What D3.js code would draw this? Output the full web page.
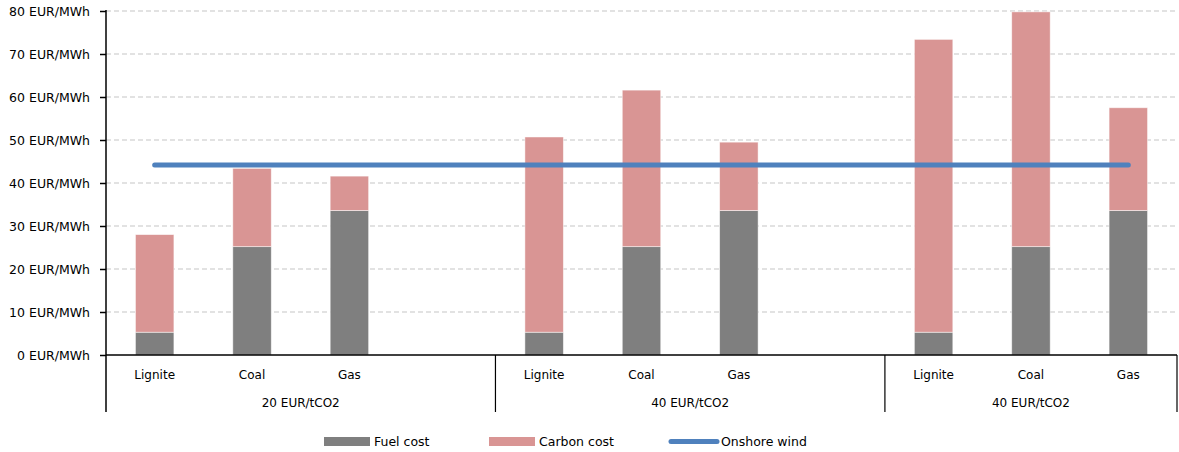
<!DOCTYPE html>
<html>
<head>
<meta charset="utf-8">
<script src="https://cdn.jsdelivr.net/npm/d3@7"></script>
<style>
  html, body { margin: 0; padding: 0; background: #fff; }
  svg { display: block; font-family: "DejaVu Sans", sans-serif; }
</style>
</head>
<body>
<svg id="chart" width="1179" height="452"></svg>
<script>
// Carbon price scenarios and the technologies compared in each
const scenarios = ["20 EUR/tCO2", "40 EUR/tCO2", "40 EUR/tCO2"];
const technologies = ["Lignite", "Coal", "Gas"];

// Generation cost components per scenario (EUR/MWh), in technology order
const fuelCost = [
  [5.3, 25.2, 33.6],
  [5.3, 25.2, 33.6],
  [5.3, 25.2, 33.6]
];
const carbonCost = [
  [22.7, 18.2, 8.0],
  [45.4, 36.4, 15.9],
  [68.1, 54.6, 23.9]
];
// Onshore wind reference cost (EUR/MWh), one value per technology column
const onshoreWind = [
  [44.2, 44.2, 44.2],
  [44.2, 44.2, 44.2],
  [44.2, 44.2, 44.2]
];

const yTicks = [0, 10, 20, 30, 40, 50, 60, 70, 80];

const colors = { fuel: "#7f7f7f", carbon: "#d99594", wind: "#4f81bd" };

const svg = d3.select("#chart");
const plotLeft = 106, plotRight = 1177, plotTop = 11, plotBottom = 355, axisBottom = 412;

// Each scenario gets a slot per technology plus an empty spacer slot (except the last)
const slots = [];
scenarios.forEach((s, gi) => {
  technologies.forEach((t, ti) => slots.push(`${gi}-${ti}`));
  if (gi < scenarios.length - 1) slots.push(`${gi}-gap`);
});

const x = d3.scaleBand().domain(slots).range([plotLeft, plotRight]).padding(0);
const y = d3.scaleLinear().domain([0, 80]).range([plotBottom, plotTop]);
const barW = x.bandwidth() * 0.395;

// Horizontal dashed gridlines
svg.append("g")
  .selectAll("line")
  .data(yTicks.filter(d => d > 0))
  .join("line")
  .attr("x1", plotLeft).attr("x2", plotRight)
  .attr("y1", d => y(d)).attr("y2", d => y(d))
  .attr("stroke", "#d9d9d9")
  .attr("stroke-width", 1.5)
  .attr("stroke-dasharray", "5,3");

// Stacked bars
const bars = [];
scenarios.forEach((s, gi) => {
  technologies.forEach((t, ti) => {
    const f = fuelCost[gi][ti], c = carbonCost[gi][ti];
    bars.push({ key: `${gi}-${ti}`, y0: 0, y1: f, color: colors.fuel });
    bars.push({ key: `${gi}-${ti}`, y0: f, y1: f + c, color: colors.carbon });
  });
});

svg.append("g")
  .selectAll("rect")
  .data(bars)
  .join("rect")
  .attr("x", d => x(d.key) + (x.bandwidth() - barW) / 2)
  .attr("width", barW)
  .attr("y", d => y(Math.min(d.y1, 80)))
  .attr("height", d => y(d.y0) - y(Math.min(d.y1, 80)))
  .attr("fill", d => d.color)
  .attr("stroke", "rgba(255,255,255,0.6)")
  .attr("stroke-width", 0.8);

// Onshore wind line across the technology columns
const windPts = [];
scenarios.forEach((s, gi) => technologies.forEach((t, ti) =>
  windPts.push({ key: `${gi}-${ti}`, v: onshoreWind[gi][ti] })));

svg.append("path")
  .datum(windPts)
  .attr("fill", "none")
  .attr("stroke", colors.wind)
  .attr("stroke-width", 5)
  .attr("stroke-linecap", "round")
  .attr("d", d3.line().x(d => x(d.key) + x.bandwidth() / 2).y(d => y(d.v)));

// Y axis
const yAxis = svg.append("g")
  .attr("transform", `translate(${plotLeft},0)`)
  .call(d3.axisLeft(y).tickValues(yTicks).tickSize(6).tickPadding(10)
    .tickFormat(d => `${d} EUR/MWh`));
yAxis.select(".domain").remove();
yAxis.selectAll(".tick line").attr("stroke", "#000").attr("stroke-width", 1.5);
yAxis.selectAll(".tick text")
  .attr("fill", "#000")
  .style("font-size", "12.5px")
  .style("font-family", "'DejaVu Sans', sans-serif");

// Axis lines: vertical extends into the category label area
svg.append("line")
  .attr("x1", plotLeft).attr("x2", plotLeft).attr("y1", plotTop - 1).attr("y2", axisBottom)
  .attr("stroke", "#000").attr("stroke-width", 1.5);
svg.append("line")
  .attr("x1", plotLeft).attr("x2", plotRight).attr("y1", plotBottom).attr("y2", plotBottom)
  .attr("stroke", "#000").attr("stroke-width", 1.5);

// Scenario separators
const groupEnds = scenarios.map((s, gi) => gi < scenarios.length - 1
  ? x(`${gi}-gap`) + x.bandwidth() : plotRight);
svg.append("g")
  .selectAll("line")
  .data(groupEnds)
  .join("line")
  .attr("x1", d => d).attr("x2", d => d)
  .attr("y1", plotBottom).attr("y2", axisBottom)
  .attr("stroke", "#000").attr("stroke-width", 1.2);

// Technology labels
svg.append("g")
  .selectAll("text")
  .data(scenarios.flatMap((s, gi) => technologies.map((t, ti) => ({ key: `${gi}-${ti}`, t }))))
  .join("text")
  .attr("x", d => x(d.key) + x.bandwidth() / 2)
  .attr("y", 375)
  .attr("dy", "0.35em")
  .attr("text-anchor", "middle")
  .style("font-size", "12px")
  .text(d => d.t);

// Scenario labels centred in each group
svg.append("g")
  .selectAll("text")
  .data(scenarios.map((s, gi) => ({ s, x0: gi === 0 ? plotLeft : groupEnds[gi - 1], x1: groupEnds[gi] })))
  .join("text")
  .attr("x", d => (d.x0 + d.x1) / 2)
  .attr("y", 403)
  .attr("dy", "0.35em")
  .attr("text-anchor", "middle")
  .style("font-size", "12px")
  .text(d => d.s);

// Legend
const legend = svg.append("g").style("font-size", "12.5px");
const legendItems = [
  { label: "Fuel cost", color: colors.fuel, type: "rect", x: 324, w: 46 },
  { label: "Carbon cost", color: colors.carbon, type: "rect", x: 489, w: 46 },
  { label: "Onshore wind", color: colors.wind, type: "line", x: 671, w: 46 }
];
legendItems.forEach(it => {
  if (it.type === "rect") {
    legend.append("rect").attr("x", it.x).attr("y", 437).attr("width", it.w).attr("height", 9)
      .attr("fill", it.color);
  } else {
    legend.append("line").attr("x1", it.x).attr("x2", it.x + it.w).attr("y1", 441.5).attr("y2", 441.5)
      .attr("stroke", it.color).attr("stroke-width", 5).attr("stroke-linecap", "round");
  }
  legend.append("text").attr("x", it.x + it.w + 4).attr("y", 441.5).attr("dy", "0.35em")
    .text(it.label);
});
</script>
</body>
</html>
